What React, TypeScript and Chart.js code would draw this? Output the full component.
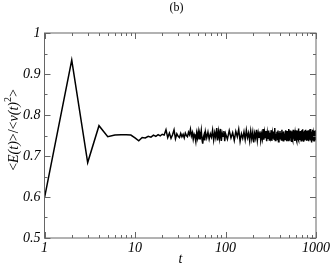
import React, { useEffect, useRef } from "react";
import { Chart, registerables } from "chart.js";

Chart.register(...registerables);

// <E(t)>/<v(t)^2>
// t = 1 .. 60 (every step)
const earlyRatios = [
  0.598, 0.934, 0.684, 0.774, 0.747, 0.751, 0.752, 0.752, 0.751, 0.744,
  0.737, 0.745, 0.744, 0.748, 0.746, 0.751, 0.748, 0.752, 0.749, 0.753,
  0.751, 0.764, 0.745, 0.756, 0.743, 0.752, 0.764, 0.742, 0.754, 0.748,
  0.745, 0.755, 0.747, 0.753, 0.744, 0.756, 0.75, 0.747, 0.758, 0.752,
  0.765, 0.749, 0.757, 0.741, 0.753, 0.747, 0.735, 0.756, 0.744, 0.759,
  0.742, 0.755, 0.748, 0.762, 0.74, 0.73, 0.746, 0.752, 0.738, 0.759,
];
const earlyStart = 1;
const earlyStep = 1;

// t = 62 .. 100 (step 2)
const midRatios = [
  0.744, 0.758, 0.741, 0.754, 0.746, 0.763, 0.739, 0.757, 0.745, 0.768,
  0.738, 0.76, 0.743, 0.766, 0.737, 0.756, 0.748, 0.761, 0.736, 0.755,
];
const midStart = 62;
const midStep = 2;

// t = 105 .. 1000 (step 5)
const lateRatios = [
  0.741, 0.762, 0.744, 0.757, 0.738, 0.76, 0.747, 0.765, 0.736, 0.754,
  0.743, 0.759, 0.74, 0.763, 0.745, 0.756, 0.737, 0.761, 0.742, 0.758,
  0.733, 0.755, 0.744, 0.764, 0.739, 0.757, 0.746, 0.76, 0.738, 0.753,
  0.742, 0.766, 0.74, 0.758, 0.745, 0.761, 0.736, 0.756, 0.743, 0.762,
  0.739, 0.757, 0.747, 0.763, 0.737, 0.755, 0.744, 0.76, 0.741, 0.768,
  0.738, 0.754, 0.745, 0.759, 0.74, 0.762, 0.735, 0.757, 0.746, 0.761,
  0.742, 0.756, 0.739, 0.764, 0.744, 0.758, 0.737, 0.76, 0.743, 0.755,
  0.74, 0.763, 0.746, 0.757, 0.736, 0.761, 0.745, 0.759, 0.738, 0.766,
  0.743, 0.755, 0.741, 0.762, 0.747, 0.756, 0.734, 0.76, 0.744, 0.758,
  0.739, 0.764, 0.742, 0.757, 0.745, 0.761, 0.737, 0.755, 0.746, 0.763,
  0.74, 0.758, 0.736, 0.762, 0.744, 0.756, 0.741, 0.767, 0.738, 0.759,
  0.745, 0.757, 0.739, 0.761, 0.743, 0.754, 0.737, 0.763, 0.746, 0.758,
  0.741, 0.765, 0.74, 0.756, 0.744, 0.76, 0.735, 0.757, 0.747, 0.762,
  0.738, 0.755, 0.743, 0.764, 0.74, 0.758, 0.745, 0.761, 0.737, 0.756,
  0.744, 0.762, 0.739, 0.757, 0.746, 0.763, 0.736, 0.759, 0.742, 0.755,
  0.74, 0.766, 0.744, 0.758, 0.738, 0.761, 0.745, 0.756, 0.733, 0.76,
  0.743, 0.757, 0.741, 0.764, 0.746, 0.755, 0.739, 0.762, 0.744, 0.758,
  0.737, 0.761, 0.745, 0.756, 0.74, 0.763, 0.742, 0.757, 0.746, 0.752,
];
const lateStart = 105;
const lateStep = 5;

const xMajorTicks = [1, 10, 100, 1000];
const yMajorTicks = [0.5, 0.6, 0.7, 0.8, 0.9, 1];
const titleText = "(b)";
const xTitle = "t";

const FONT = "'Liberation Serif', 'Times New Roman', serif";

function toPoints(values: number[], start: number, step: number) {
  return values.map((v, i) => ({ x: start + i * step, y: v }));
}

const framePlugin = {
  id: "framePlugin",
  afterDraw(chart: any) {
    const { ctx, chartArea } = chart;
    const { left, right, top, bottom } = chartArea;
    const xs = chart.scales.x;
    const ys = chart.scales.y;
    ctx.save();
    ctx.strokeStyle = "#666";
    ctx.lineWidth = 1;
    ctx.strokeRect(left, top, right - left, bottom - top);
    ctx.beginPath();
    // x ticks
    for (let d = 1; d <= 1000; d *= 10) {
      for (let k = 1; k <= 9; k++) {
        const v = k * d;
        if (v > 1000) break;
        const px = Math.round(xs.getPixelForValue(v)) + 0.5;
        const len = k === 1 ? 6 : 3;
        ctx.moveTo(px, bottom);
        ctx.lineTo(px, bottom - len);
        ctx.moveTo(px, top);
        ctx.lineTo(px, top + len);
      }
    }
    // y ticks
    for (let i = 0; i <= 10; i++) {
      const v = 0.5 + i * 0.05;
      const py = Math.round(ys.getPixelForValue(v)) + 0.5;
      const len = i % 2 === 0 ? 6 : 3;
      ctx.moveTo(left, py);
      ctx.lineTo(left + len, py);
      ctx.moveTo(right, py);
      ctx.lineTo(right - len, py);
    }
    ctx.stroke();

    // title
    ctx.fillStyle = "#000";
    ctx.font = `12px ${FONT}`;
    ctx.textAlign = "center";
    ctx.textBaseline = "middle";
    ctx.fillText(titleText, 176.5, 8);

    // x title
    ctx.font = `italic 14px ${FONT}`;
    ctx.textBaseline = "alphabetic";
    ctx.fillText(xTitle, 180.5, 262.5);

    // y title with superscript
    const size = 14;
    const segs: { t: string; f: string; dy: number }[] = [
      { t: "<", f: `${size}px ${FONT}`, dy: 0 },
      { t: "E(t)", f: `italic ${size}px ${FONT}`, dy: 0 },
      { t: ">/<", f: `${size}px ${FONT}`, dy: 0 },
      { t: "v(t)", f: `italic ${size}px ${FONT}`, dy: 0 },
      { t: "2", f: `${Math.round(size * 0.7)}px ${FONT}`, dy: -7 },
      { t: ">", f: `${size}px ${FONT}`, dy: 0 },
    ];
    let total = 0;
    const widths = segs.map((s) => {
      ctx.font = s.f;
      const w = ctx.measureText(s.t).width;
      total += w;
      return w;
    });
    ctx.translate(18, 130);
    ctx.rotate(-Math.PI / 2);
    ctx.textAlign = "left";
    let cx = -total / 2;
    segs.forEach((s, i) => {
      ctx.font = s.f;
      ctx.fillText(s.t, cx, s.dy);
      cx += widths[i];
    });
    ctx.restore();
  },
};

export default function App() {
  const ref = useRef<HTMLCanvasElement | null>(null);
  useEffect(() => {
    if (!ref.current) return;
    const data = [
      ...toPoints(earlyRatios, earlyStart, earlyStep),
      ...toPoints(midRatios, midStart, midStep),
      ...toPoints(lateRatios, lateStart, lateStep),
    ];
    const chart = new Chart(ref.current, {
      type: "line",
      data: {
        datasets: [
          {
            data,
            borderColor: "#000",
            borderWidth: 1.5,
            pointRadius: 0,
            tension: 0,
            fill: false,
          },
        ],
      },
      options: {
        animation: false,
        responsive: false,
        events: [],
        layout: { padding: { top: 33, right: 16, left: 0, bottom: 0 } },
        plugins: {
          legend: { display: false },
          title: { display: false },
          tooltip: { enabled: false },
        },
        scales: {
          x: {
            type: "logarithmic",
            min: 1,
            max: 1000,
            grid: { display: false, drawTicks: false },
            border: { display: false },
            afterBuildTicks: (scale: any) => {
              scale.ticks = xMajorTicks.map((v) => ({ value: v }));
            },
            afterFit: (scale: any) => {
              scale.height = 26;
            },
            ticks: {
              autoSkip: false,
              maxRotation: 0,
              padding: 2,
              color: "#000",
              font: { family: FONT, size: 14, style: "italic" },
              callback: (v: any) => String(v),
            },
          },
          y: {
            type: "linear",
            min: 0.5,
            max: 1,
            grid: { display: false, drawTicks: false },
            border: { display: false },
            afterBuildTicks: (scale: any) => {
              scale.ticks = yMajorTicks.map((v) => ({ value: v }));
            },
            afterFit: (scale: any) => {
              scale.width = 44.5;
            },
            ticks: {
              autoSkip: false,
              padding: 4,
              color: "#000",
              font: { family: FONT, size: 14, style: "italic" },
              callback: (v: any) => String(Number(Number(v).toFixed(2))),
            },
          },
        },
      },
      plugins: [framePlugin],
    });
    return () => chart.destroy();
  }, []);
  return (
    <div style={{ position: "fixed", left: 0, top: 0, width: 332, height: 264, background: "#fff" }}>
      <canvas ref={ref} width={332} height={264} style={{ display: "block" }} />
    </div>
  );
}
